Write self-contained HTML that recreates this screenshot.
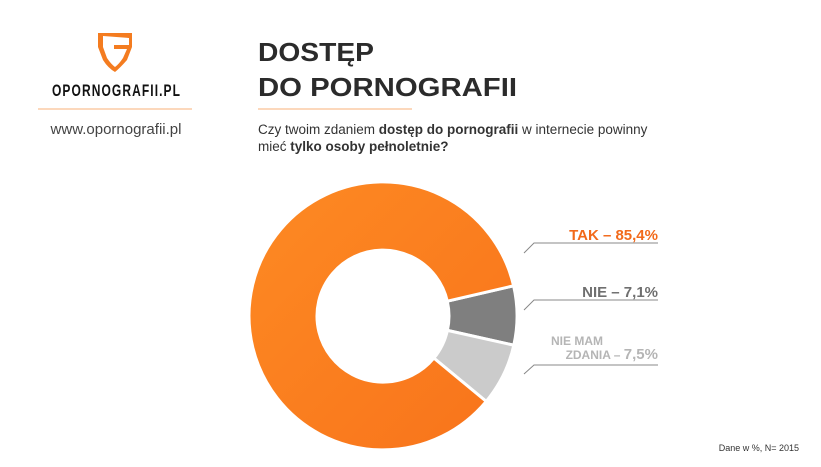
<!DOCTYPE html>
<html><head><meta charset="utf-8"><style>
body{margin:0;background:#fff;}
svg{display:block;font-family:"Liberation Sans",sans-serif;}
</style></head><body>
<svg width="821" height="467" viewBox="0 0 821 467">
<defs><linearGradient id="g" x1="0" y1="0" x2="1" y2="1">
<stop offset="0" stop-color="#fd8a23"/><stop offset="1" stop-color="#f8731b"/></linearGradient></defs>
<path d="M98 33 H132 V47 L127 60 Q120 68 115 72 Q108 68 103 60 L98 47 Z M103 36 V47 L107 58 Q111 64 115 67 Q119 64 123 58 L127 49 H114 V45 H129 V38 Z" fill="#f47c20" fill-rule="evenodd"/>
<text transform="translate(52,96) scale(1,1.35)" font-size="12" font-weight="bold" fill="#111" textLength="128" lengthAdjust="spacing">OPORNOGRAFII.PL</text>
<line x1="38" y1="109" x2="192" y2="109" stroke="#f9b27a" stroke-width="1"/>
<text x="116" y="134" text-anchor="middle" font-size="15" fill="#444">www.opornografii.pl</text>
<text x="258" y="61" font-size="26" font-weight="bold" fill="#2b2b2b" textLength="116" lengthAdjust="spacingAndGlyphs">DOSTĘP</text>
<text x="258" y="96" font-size="26" font-weight="bold" fill="#2b2b2b" textLength="259" lengthAdjust="spacingAndGlyphs">DO PORNOGRAFII</text>
<line x1="258" y1="109" x2="412" y2="109" stroke="#f9b27a" stroke-width="1"/>
<text x="258" y="134" font-size="13.5" fill="#333">Czy twoim zdaniem <tspan font-weight="bold">dostęp do pornografii</tspan> w internecie powinny</text>
<text x="258" y="151" font-size="13.5" fill="#333">mieć <tspan font-weight="bold">tylko osoby pełnoletnie?</tspan></text>
<g stroke="#fff" stroke-width="3" stroke-linejoin="round">
<path d="M513.6 285.8 A134 134 0 0 1 513.8 345.2 L447.4 330.4 A66 66 0 0 0 447.3 301.2 Z" fill="#7f7f7f"/>
<path d="M513.8 345.2 A134 134 0 0 1 486.2 401.4 L433.9 358.1 A66 66 0 0 0 447.4 330.4 Z" fill="#cbcbcb"/>
<path d="M486.2 401.4 A134 134 0 1 1 513.6 285.8 L447.3 301.2 A66 66 0 1 0 433.9 358.1 Z" fill="url(#g)"/>
</g>
<g stroke="#888" stroke-width="1" fill="none">
<polyline points="524,253 534,243 658,243"/>
<polyline points="524,310 534,300 658,300"/>
<polyline points="524,374 534,365 658,365"/>
</g>
<text x="658" y="240" text-anchor="end" font-size="15" font-weight="bold" fill="#f26a1b">TAK –  85,4%</text>
<text x="658" y="297" text-anchor="end" font-size="15" font-weight="bold" fill="#6f6f6f">NIE –  7,1%</text>
<text x="603" y="345" text-anchor="end" font-size="12" font-weight="bold" fill="#b5b5b5">NIE MAM</text>
<text x="658" y="359" text-anchor="end" font-size="12" font-weight="bold" fill="#b5b5b5">ZDANIA –  <tspan font-size="15">7,5%</tspan></text>
<text x="799" y="451" text-anchor="end" font-size="9" fill="#333">Dane w %, N= 2015</text>
</svg>
</body></html>
